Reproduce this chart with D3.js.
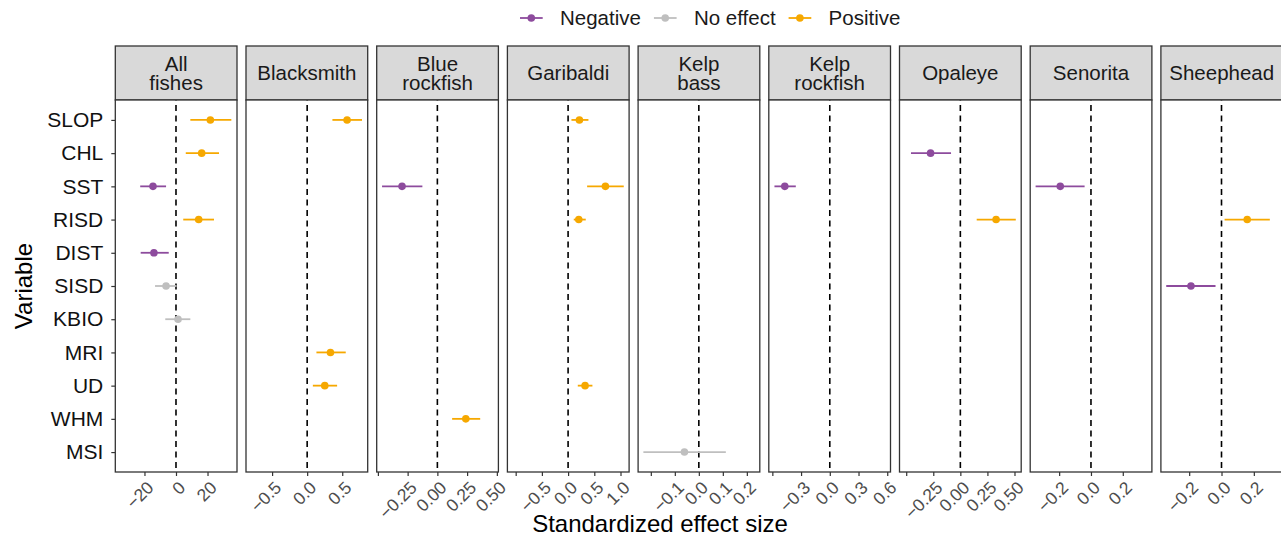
<!DOCTYPE html>
<html>
<head>
<meta charset="utf-8">
<script src="https://cdn.jsdelivr.net/npm/d3@7"></script>
<style>
  html, body { margin: 0; padding: 0; background: #fff; }
  svg { display: block; font-family: "Liberation Sans", Arial, Helvetica, sans-serif; }
</style>
</head>
<body>
<div id="chart"></div>
<script>
// facet panels, left to right
const species = ["All fishes", "Blacksmith", "Blue rockfish", "Garibaldi", "Kelp bass",
  "Kelp rockfish", "Opaleye", "Senorita", "Sheephead"];
const stripLabels = [["All", "fishes"], ["Blacksmith"], ["Blue", "rockfish"], ["Garibaldi"],
  ["Kelp", "bass"], ["Kelp", "rockfish"], ["Opaleye"], ["Senorita"], ["Sheephead"]];

// y categories, top to bottom
const variables = ["SLOP", "CHL", "SST", "RISD", "DIST", "SISD", "KBIO", "MRI", "UD", "WHM", "MSI"];

const effectTypes = ["Negative", "No effect", "Positive"];

// x range of every panel (free scales)
const xDomains = [[-38.5, 38.7], [-0.872, 0.863], [-0.51, 0.513], [-1.158, 1.164], [-0.253, 0.254],
  [-0.637, 0.634], [-0.562, 0.562], [-0.382, 0.383], [-0.375, 0.378]];

// breaks and their labels per panel ("" = tick without a label)
const xBreaks = [[-20, 0, 20], [-0.5, 0, 0.5], [-0.5, -0.25, 0, 0.25, 0.5], [-1, -0.5, 0, 0.5, 1],
  [-0.2, -0.1, 0, 0.1, 0.2], [-0.6, -0.3, 0, 0.3, 0.6], [-0.5, -0.25, 0, 0.25, 0.5],
  [-0.2, 0, 0.2], [-0.2, 0, 0.2]];
const xLabels = [["−20", "0", "20"], ["−0.5", "0.0", "0.5"], ["", "−0.25", "0.00", "0.25", "0.50"],
  ["", "−0.5", "0.0", "0.5", "1.0"], ["", "−0.1", "0.0", "0.1", "0.2"], ["", "−0.3", "0.0", "0.3", "0.6"],
  ["", "−0.25", "0.00", "0.25", "0.50"], ["−0.2", "0.0", "0.2"], ["−0.2", "0.0", "0.2"]];

// estimates: [species, variable, estimate, lower, upper, effect]
const estimates = [
  ["All fishes", "SLOP", 21.8, 9.1, 35.1, "Positive"],
  ["All fishes", "CHL", 16.3, 6.2, 27.3, "Positive"],
  ["All fishes", "SST", -14.6, -22.7, -6.3, "Negative"],
  ["All fishes", "RISD", 14.4, 4.6, 24.1, "Positive"],
  ["All fishes", "DIST", -14.0, -22.4, -4.6, "Negative"],
  ["All fishes", "SISD", -6.3, -13.3, 0.4, "No effect"],
  ["All fishes", "KBIO", 1.3, -6.8, 9.1, "No effect"],
  ["Blacksmith", "SLOP", 0.569, 0.36, 0.782, "Positive"],
  ["Blacksmith", "MRI", 0.332, 0.132, 0.55, "Positive"],
  ["Blacksmith", "UD", 0.251, 0.081, 0.427, "Positive"],
  ["Blue rockfish", "SST", -0.297, -0.465, -0.126, "Negative"],
  ["Blue rockfish", "WHM", 0.239, 0.124, 0.36, "Positive"],
  ["Garibaldi", "SLOP", 0.216, 0.064, 0.388, "Positive"],
  ["Garibaldi", "SST", 0.712, 0.363, 1.062, "Positive"],
  ["Garibaldi", "RISD", 0.204, 0.108, 0.337, "Positive"],
  ["Garibaldi", "UD", 0.324, 0.185, 0.464, "Positive"],
  ["Kelp bass", "MSI", -0.06, -0.231, 0.1125, "No effect"],
  ["Kelp rockfish", "SST", -0.47, -0.578, -0.355, "Negative"],
  ["Opaleye", "CHL", -0.275, -0.456, -0.086, "Negative"],
  ["Opaleye", "RISD", 0.33, 0.151, 0.512, "Positive"],
  ["Senorita", "SST", -0.193, -0.348, -0.04, "Negative"],
  ["Sheephead", "RISD", 0.159, 0.019, 0.299, "Positive"],
  ["Sheephead", "SISD", -0.189, -0.342, -0.037, "Negative"],
];

const W = 1281, H = 536;
const panelLeft = 115.3, panelStep = 130.7, panelW = 121.7;
const stripTop = 46, panelTop = 100, panelBottom = 472;

const color = d3.scaleOrdinal().domain(effectTypes).range(["#8d4b9d", "#bfbfbf", "#f6a800"]);

const svg = d3.select("#chart").append("svg")
  .attr("width", W).attr("height", H);

const y = d3.scalePoint().domain(variables).range([panelTop, panelBottom]).padding(0.6);

// y axis (only on the first panel)
const yAxis = svg.append("g").attr("transform", `translate(${panelLeft},0)`)
  .call(d3.axisLeft(y).tickSize(4).tickPadding(8));
yAxis.select(".domain").remove();
yAxis.selectAll(".tick line").attr("stroke", "#333").attr("stroke-width", 1.2);
yAxis.selectAll(".tick text").attr("fill", "#111").attr("font-size", 21)
  .attr("font-family", "Liberation Sans, Arial, sans-serif");

species.forEach((sp, i) => {
  const x0 = panelLeft + i * panelStep;
  const g = svg.append("g").attr("transform", `translate(${x0},0)`);
  const x = d3.scaleLinear().domain(xDomains[i]).range([0, panelW]);

  // strip
  g.append("rect").attr("x", 0).attr("y", stripTop).attr("width", panelW)
    .attr("height", panelTop - stripTop).attr("fill", "#d9d9d9")
    .attr("stroke", "#333").attr("stroke-width", 1.3);
  const lines = stripLabels[i];
  const st = g.append("text").attr("x", panelW / 2).attr("text-anchor", "middle")
    .attr("font-size", 20.5).attr("fill", "#1a1a1a");
  lines.forEach((l, k) => {
    const cy = (stripTop + panelTop) / 2 + (k - (lines.length - 1) / 2) * 19.5;
    st.append("tspan").attr("x", panelW / 2).attr("y", cy).attr("dy", "0.36em").text(l);
  });

  // panel background + zero line
  g.append("rect").attr("x", 0).attr("y", panelTop).attr("width", panelW)
    .attr("height", panelBottom - panelTop).attr("fill", "#fff");
  g.append("line").attr("x1", x(0)).attr("x2", x(0))
    .attr("y1", panelTop).attr("y2", panelBottom)
    .attr("stroke", "#000").attr("stroke-width", 1.6).attr("stroke-dasharray", "6,4.5")
    .attr("stroke-dashoffset", -5);

  // estimates
  const rows = estimates.filter(r => r[0] === sp);
  g.selectAll("line.ci").data(rows).enter().append("line").attr("class", "ci")
    .attr("x1", d => x(d[3])).attr("x2", d => x(d[4]))
    .attr("y1", d => y(d[1])).attr("y2", d => y(d[1]))
    .attr("stroke", d => color(d[5])).attr("stroke-width", 1.8);
  g.selectAll("circle.est").data(rows).enter().append("circle").attr("class", "est")
    .attr("cx", d => x(d[2])).attr("cy", d => y(d[1])).attr("r", 3.8)
    .attr("fill", d => color(d[5]));

  // border
  g.append("rect").attr("x", 0).attr("y", panelTop).attr("width", panelW)
    .attr("height", panelBottom - panelTop).attr("fill", "none")
    .attr("stroke", "#333").attr("stroke-width", 1.3);

  // x axis
  const ax = g.append("g").attr("transform", `translate(0,${panelBottom})`)
    .call(d3.axisBottom(x).tickValues(xBreaks[i]).tickSize(4)
      .tickFormat((d, k) => xLabels[i][k]));
  ax.select(".domain").remove();
  ax.selectAll(".tick line").attr("stroke", "#333").attr("stroke-width", 1.2);
  ax.selectAll(".tick text")
    .attr("font-size", 17.5).attr("fill", "#4d4d4d")
    .attr("font-family", "Liberation Sans, Arial, sans-serif")
    .attr("text-anchor", "end")
    .attr("y", 0).attr("dy", "0.75em")
    .attr("transform", "translate(0.5,7.5) rotate(-45)");
});

// axis titles
svg.append("text").attr("x", 660).attr("y", 532).attr("text-anchor", "middle")
  .attr("font-size", 24).attr("fill", "#000").text("Standardized effect size");
svg.append("text").attr("transform", `translate(32,${(panelTop + panelBottom) / 2}) rotate(-90)`)
  .attr("text-anchor", "middle").attr("font-size", 24).attr("fill", "#000").text("Variable");

// legend
const legend = svg.append("g").attr("transform", "translate(520,18)");
let lx = 0;
effectTypes.forEach(t => {
  const item = legend.append("g").attr("transform", `translate(${lx},0)`);
  item.append("line").attr("x1", 0).attr("x2", 22.7).attr("stroke", color(t)).attr("stroke-width", 1.8);
  item.append("circle").attr("cx", 11.3).attr("r", 3.8).attr("fill", color(t));
  const tx = item.append("text").attr("x", 40).attr("dy", "0.36em").attr("font-size", 20.5)
    .attr("fill", "#1a1a1a").text(t);
  lx += 40 + tx.node().getComputedTextLength() + 13;
});
</script>
</body>
</html>
